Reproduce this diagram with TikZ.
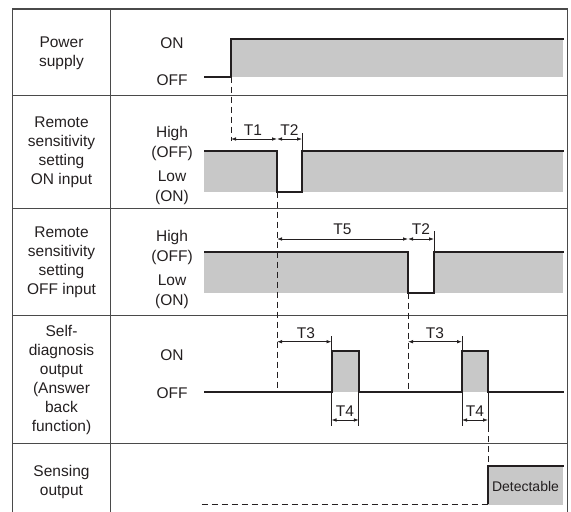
\documentclass[tikz,border=0pt]{standalone}
\usepackage{fontspec}
\setmainfont{Liberation Sans}
\usetikzlibrary{arrows.meta}
\definecolor{ChartInk}{HTML}{231F20}
\definecolor{ChartFrame}{HTML}{4A4A4A}
\definecolor{ChartFill}{HTML}{C8C8C8}

\tikzset{
  sig/.style={ChartInk, line width=2pt, line join=miter},
  dimline/.style={ChartInk, line width=0.8pt, {Latex[length=5pt,width=3.6pt]}-{Latex[length=5pt,width=3.6pt]}},
  tickline/.style={ChartInk, line width=0.8pt},
  guide/.style={ChartInk, line width=0.9pt, dash pattern=on 6pt off 4pt},
  rowlabel/.style={align=center, inner sep=0pt, font=\fontsize{15.5}{19}\selectfont},
  statelabel/.style={align=center, inner sep=0pt, font=\fontsize{15.5}{20}\selectfont},
  tlabel/.style={inner sep=0pt, font=\fontsize{15.5}{18}\selectfont}
}

\begin{document}
\begin{tikzpicture}[x=1pt, y=-1pt, text=ChartInk]
    \useasboundingbox (0,0) rectangle (571,512);

    % table frame
    \draw[ChartFrame, line width=1.3pt] (12.5,9) rectangle (567.5,530);
    \draw[ChartFrame, line width=1.3pt] (110.5,9) -- (110.5,530);
    \draw[ChartFrame, line width=1.3pt] (12.5,95.7) -- (567.5,95.7);
    \draw[ChartFrame, line width=1.3pt] (12.5,208.3) -- (567.5,208.3);
    \draw[ChartFrame, line width=1.3pt] (12.5,315.7) -- (567.5,315.7);
    \draw[ChartFrame, line width=1.3pt] (12.5,443.3) -- (567.5,443.3);

    % row names
    \node[rowlabel] (lblPower) at (61.5,53) {Power\\supply};
    \node[rowlabel] (lblOnIn) at (61.5,152) {Remote\\sensitivity\\setting\\ON input};
    \node[rowlabel] (lblOffIn) at (61.5,262) {Remote\\sensitivity\\setting\\OFF input};
    \node[rowlabel] (lblSelf) at (61.5,379.5) {Self-\\diagnosis\\output\\(Answer\\back\\function)};
    \node[rowlabel] (lblSense) at (61.5,482) {Sensing\\output};

    % levels
    \node[statelabel] (stPwrOn) at (172,43) {ON};
    \node[statelabel] (stPwrOff) at (172,80) {OFF};
    \node[statelabel] (stOnHigh) at (172,143) {High\\(OFF)};
    \node[statelabel] (stOnLow) at (172,188) {Low\\(ON)};
    \node[statelabel] (stOffHigh) at (172,247.5) {High\\(OFF)};
    \node[statelabel] (stOffLow) at (172,292) {Low\\(ON)};
    \node[statelabel] (stSelfOn) at (172,355) {ON};
    \node[statelabel] (stSelfOff) at (172,393) {OFF};

    % power supply
    \fill[ChartFill] (231,38.5) rectangle (563,76.7);
    \draw[sig] (204,76.7) -- (231,76.7) -- (231,38.5) -- (564,38.5);

    % remote ON input
    \fill[ChartFill] (204,150.7) rectangle (277,191.7);
    \fill[ChartFill] (302,150.7) rectangle (563,191.7);
    \draw[sig] (204,150.7) -- (277,150.7) -- (277,191.7) -- (302,191.7) -- (302,150.7) -- (564,150.7);

    % remote OFF input
    \fill[ChartFill] (204,251.7) rectangle (408,292.7);
    \fill[ChartFill] (434,251.7) rectangle (563,292.7);
    \draw[sig] (204,251.7) -- (408,251.7) -- (408,292.7) -- (434,292.7) -- (434,251.7) -- (564,251.7);

    % self-diagnosis output
    \fill[ChartFill] (331.5,351) rectangle (358.8,392.3);
    \fill[ChartFill] (462,351) rectangle (488,392.3);
    \draw[sig] (204,392.3) -- (331.5,392.3) -- (331.5,351) -- (358.8,351) -- (358.8,392.3)
      -- (462,392.3) -- (462,351) -- (488,351) -- (488,392.3) -- (564,392.3);

    % sensing output
    \fill[ChartFill] (488,465.7) rectangle (563,505);
    \draw[sig] (488,504) -- (488,465.7) -- (564,465.7);
    \node[inner sep=0pt, font=\fontsize{14}{16}\selectfont] (detect) at (525.5,486) {Detectable};

    % timing points
    \coordinate (pwrOn) at (231,76.7);
    \coordinate (t1a) at (231,139);
    \coordinate (t1b) at (277,139);
    \coordinate (t2b) at (302,139);
    \coordinate (onFall) at (277,191.7);
    \coordinate (t5a) at (277,239);
    \coordinate (t5b) at (408,239);
    \coordinate (t2d) at (434,239);
    \coordinate (offFall) at (408,292.7);
    \coordinate (t3a) at (277,341.7);
    \coordinate (t3b) at (331.5,341.7);
    \coordinate (t3c) at (408,341.7);
    \coordinate (t3d) at (462,341.7);
    \coordinate (offLowA) at (277,392.3);
    \coordinate (offLowB) at (408,392.3);
    \coordinate (t4a) at (331.5,420);
    \coordinate (t4b) at (358.8,420);
    \coordinate (t4c) at (462,420);
    \coordinate (t4d) at (488,420);
    \coordinate (ansEnd) at (488,426);
    \coordinate (detTop) at (488,465.7);
    \coordinate (senseStart) at (201.5,504);
    \coordinate (senseRise) at (488,504);

    % dashed guides
    \draw[guide] (pwrOn) -- ++(0,64);
    \draw[guide] (onFall) -- (offLowA);
    \draw[guide] (offFall) -- (offLowB);
    \draw[guide] (ansEnd) -- (detTop);
    \draw[guide] (senseStart) -- (senseRise);

    % extension ticks
    \draw[tickline] (302,150.7) -- (302,133);
    \draw[tickline] (434,251.7) -- (434,231);
    \draw[tickline] (331.5,351) -- (331.5,336);
    \draw[tickline] (462,351) -- (462,336);
    \draw[tickline] (331.5,392.3) -- (331.5,426);
    \draw[tickline] (358.8,392.3) -- (358.8,426);
    \draw[tickline] (462,392.3) -- (462,426);
    \draw[tickline] (488,392.3) -- (ansEnd);

    % intervals
    \draw[dimline] (t1a) -- (t1b);
    \draw[dimline] (t1b) -- (t2b);
    \draw[dimline] (t5a) -- (t5b);
    \draw[dimline] (t5b) -- (t2d);
    \draw[dimline] (t3a) -- (t3b);
    \draw[dimline] (t3c) -- (t3d);
    \draw[dimline] (t4a) -- (t4b);
    \draw[dimline] (t4c) -- (t4d);

    \node[tlabel] (lblT1) at (253,130) {T1};
    \node[tlabel] (lblT2a) at (289.5,130) {T2};
    \node[tlabel] (lblT5) at (342.5,229) {T5};
    \node[tlabel] (lblT2b) at (421,229) {T2};
    \node[tlabel] (lblT3a) at (306,333) {T3};
    \node[tlabel] (lblT3b) at (435,333) {T3};
    \node[tlabel] (lblT4a) at (345,411) {T4};
    \node[tlabel] (lblT4b) at (475,411) {T4};
  \end{tikzpicture}
\end{document}
